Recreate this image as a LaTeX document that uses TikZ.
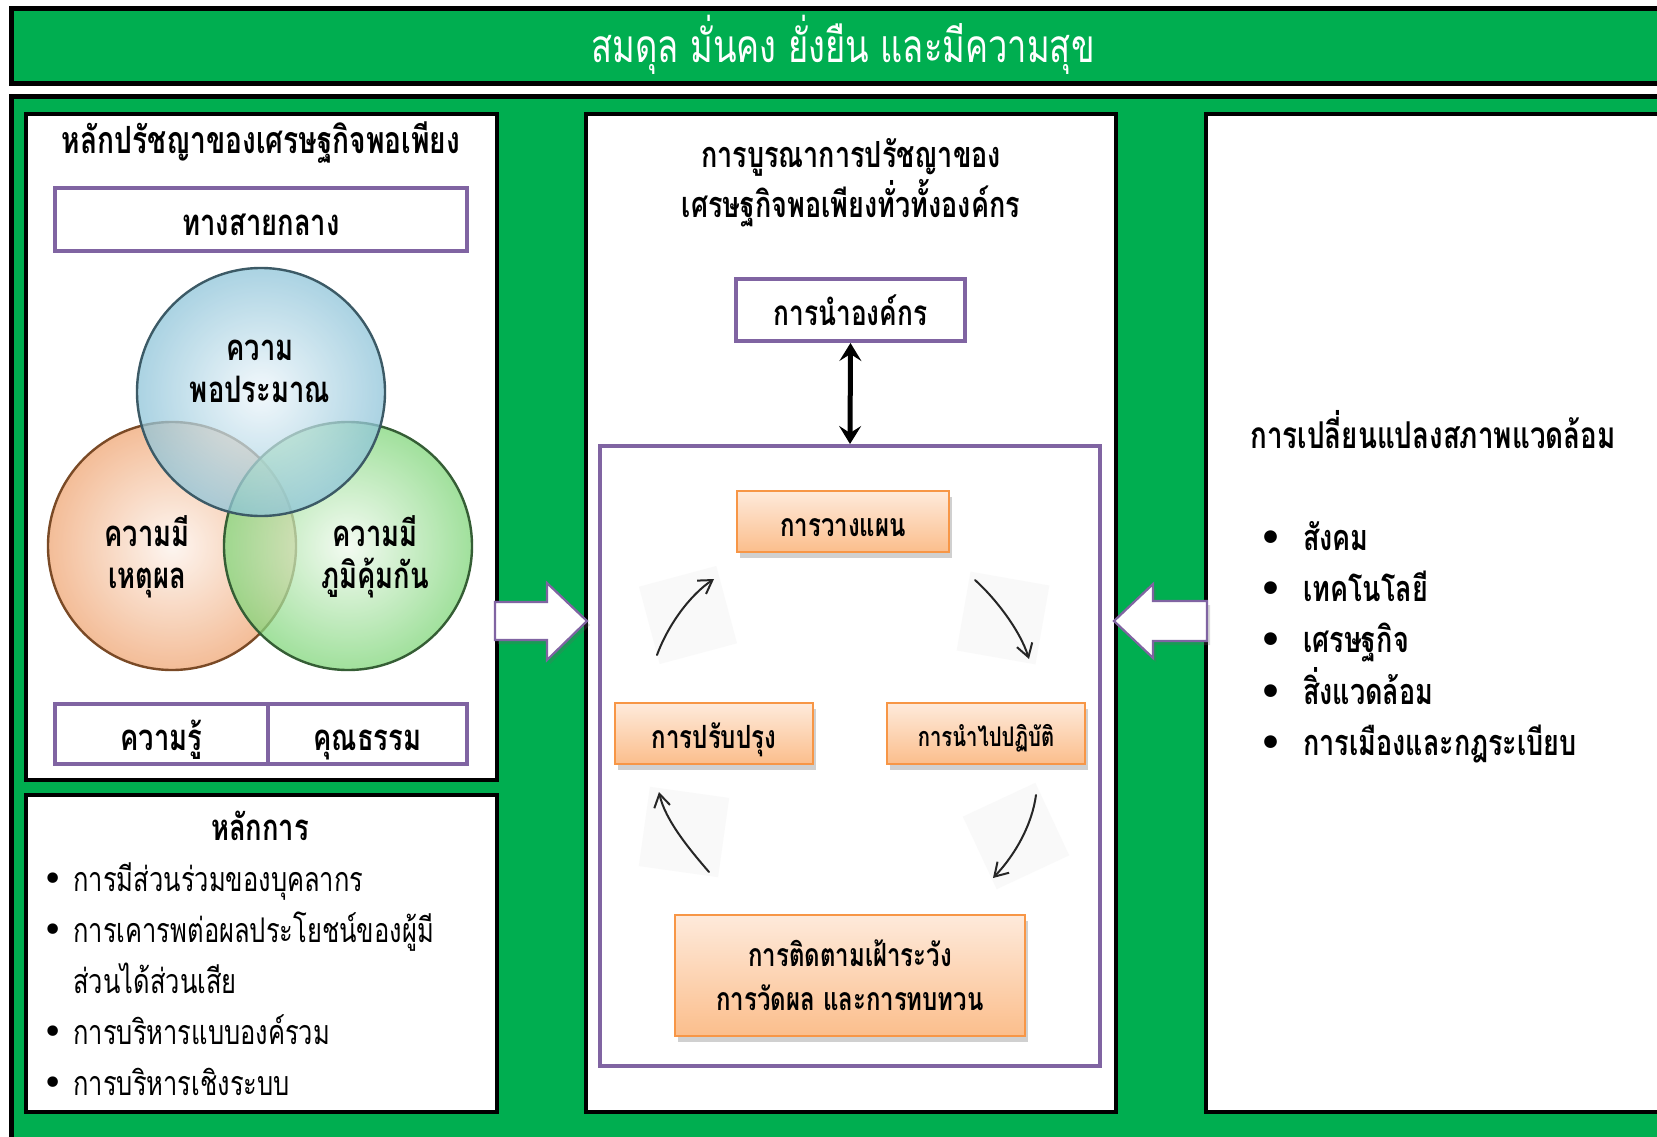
\documentclass[tikz,border=0pt]{standalone}
\usepackage{fontspec}
\setmainfont[Script=Thai,FakeStretch=0.75]{Loma}
\newfontfamily\dvfont{DejaVu Sans}
\usetikzlibrary{arrows.meta,shadows}
\definecolor{grn}{HTML}{00AE50}
\definecolor{pur}{HTML}{8064A2}
\definecolor{orbd}{HTML}{F79646}
\definecolor{ortop}{HTML}{FEEADB}
\definecolor{orbot}{HTML}{FBBE8C}
\definecolor{bluin}{HTML}{EEF6FB}
\definecolor{bluout}{HTML}{8EC4D9}
\definecolor{blubd}{HTML}{3C5A66}
\definecolor{orin}{HTML}{FDF3EC}
\definecolor{orout}{HTML}{F0A674}
\definecolor{orcbd}{HTML}{7A4A26}
\definecolor{gnin}{HTML}{F0FAEE}
\definecolor{gnout}{HTML}{80D67A}
\definecolor{gnbd}{HTML}{355E35}
\newcommand\fsz[2]{\fontsize{#1}{#2}\selectfont}
\newcommand\bul{{\dvfont\fontsize{36}{51}\selectfont •}}
\begin{document}
\begin{tikzpicture}[x=1pt,y=-1pt,
  blk/.style={draw=black,line width=4.5pt,fill=white,inner sep=0pt},
  pbox/.style={draw=pur,line width=4pt,fill=white,inner sep=0pt,text height=32pt,text depth=0pt},
  obox/.style={draw=orbd,line width=1.6pt,top color=ortop,bottom color=orbot,inner sep=0pt,
     drop shadow={shadow xshift=3pt,shadow yshift=-6pt,opacity=0.3,fill=black!60}},
  hb/.style={font=\fsz{36.5}{42}\bfseries,align=center,inner sep=0pt},
  ob/.style={font=\fsz{32}{44}\bfseries,align=center},
  one/.style={text height=29pt,text depth=0pt},
  vc/.style={circle,minimum size=248pt,line width=2.4pt,fill opacity=0.74,inner sep=0pt},
  sk/.style={line width=2pt,black!85,line cap=round,-{Straight Barb[length=13pt,width=16pt,line width=2pt]}},
  sq/.style={fill=black!2.5,minimum size=80pt,inner sep=0pt},
  barrow/.style={draw=pur,line width=2.2pt,fill=white,line join=miter,
     drop shadow={shadow xshift=3pt,shadow yshift=-4pt,opacity=0.25,fill=black!60}},
  dbl/.style={line width=5pt,{Stealth[length=18pt,width=22pt,inset=7pt]}-{Stealth[length=18pt,width=22pt,inset=7pt]}}
]
\clip (0,0) rectangle (1657,1137);
\fill[white] (0,0) rectangle (1657,1137);
% title bar
\node[draw=black,line width=5pt,fill=grn,minimum width=1670pt,minimum height=75pt,inner sep=0pt] (tbar) at (846,46.5) {};
\node[text=white,font=\fsz{46}{50}] (ttl) at (843,45) {สมดุล มั่นคง ยั่งยืน และมีความสุข};
% main panel
\node[draw=black,line width=5pt,fill=grn,minimum width=1670pt,minimum height=1063pt,inner sep=0pt] (panel) at (846,628.5) {};
% left top box
\node[blk,minimum width=471pt,minimum height=666pt] (lbox) at (261.5,447) {};
\node[hb,font=\fsz{37.5}{42}\bfseries] (ltitle) at (261,143) {หลักปรัชญาของเศรษฐกิจพอเพียง};
\node[pbox,hb,minimum width=412pt,minimum height=63pt] (middle) at (261,219.5) {ทางสายกลาง};
\node[vc,inner color=orin,outer color=orout,draw=orcbd] (cor) at (172,546) {};
\node[vc,inner color=gnin,outer color=gnout,draw=gnbd] (cgn) at (348,546) {};
\node[vc,inner color=bluin,outer color=bluout,draw=blubd] (cbl) at (261,392) {};
\node[hb] (tbl) at (260,371.5) {ความ\\พอประมาณ};
\node[hb] (tor) at (147,557) {ความมี\\เหตุผล};
\node[hb] (tgn) at (375,557) {ความมี\\ภูมิคุ้มกัน};
\node[pbox,hb,minimum width=213pt,minimum height=60pt] (know) at (161.5,734) {ความรู้};
\node[pbox,hb,minimum width=199pt,minimum height=60pt] (moral) at (367.5,734) {คุณธรรม};
% left bottom box
\node[blk,minimum width=471pt,minimum height=317pt] (pbox2) at (261.5,953.5) {};
\node[hb] (princ) at (260,826) {หลักการ};
\node[anchor=base west,inner sep=0pt,font=\fsz{34}{51}] (plist) at (42.5,891) {%
\begin{tabular}[t]{@{}l@{\hspace{9.5pt}}l@{}}
\bul & การมีส่วนร่วมของบุคลากร\\
\bul & การเคารพต่อผลประโยชน์ของผู้มี\\
 & ส่วนได้ส่วนเสีย\\
\bul & การบริหารแบบองค์รวม\\
\bul & การบริหารเชิงระบบ
\end{tabular}};
% center box
\node[blk,minimum width=530pt,minimum height=998pt] (cbox) at (851,613) {};
\node[hb,font=\fsz{36}{50}\bfseries] (ctitle) at (851,182.5) {การบูรณาการปรัชญาของ\\เศรษฐกิจพอเพียงทั่วทั้งองค์กร};
\node[pbox,hb,font=\fsz{35}{42}\bfseries,text height=31pt,minimum width=229pt,minimum height=62pt] (lead) at (850.5,310) {การนำองค์กร};
\node[pbox,minimum width=500pt,minimum height=620pt] (cyc) at (850,756) {};
\draw[dbl] (lead.south) -- (cyc.north);
% faint squares behind sketch arrows
\node[sq,rotate=15] (sq1) at (688,615) {};
\node[sq,rotate=-10] (sq2) at (1003,618) {};
\node[sq,rotate=25] (sq3) at (1016,836) {};
\node[sq,rotate=-8] (sq4) at (684,832) {};
\node[obox,ob,one,minimum width=212pt,minimum height=61pt] (plan) at (843,521.5) {การวางแผน};
\node[obox,ob,one,minimum width=198pt,minimum height=61pt] (impr) at (714,733.5) {การปรับปรุง};
\node[obox,ob,font=\fsz{27}{40}\bfseries,text height=26pt,text depth=0pt,minimum width=198pt,minimum height=61pt] (impl) at (986,733.5) {การนำไปปฏิบัติ};
\node[obox,ob,minimum width=350pt,minimum height=121pt] (mon) at (850,975.5) {การติดตามเฝ้าระวัง\\การวัดผล และการทบทวน};
\coordinate (a1s) at (657,655); \coordinate (a1e) at (714,579);
\coordinate (a2s) at (975,580); \coordinate (a2e) at (1029,659);
\coordinate (a3s) at (1036,795); \coordinate (a3e) at (993,878);
\coordinate (a4s) at (709,872); \coordinate (a4e) at (659,792);
\draw[sk] (a1s) .. controls (668,625) and (690,595) .. (a1e);
\draw[sk] (a2s) .. controls (995,598) and (1020,630) .. (a2e);
\draw[sk] (a3s) .. controls (1032,825) and (1015,855) .. (a3e);
\draw[sk] (a4s) .. controls (690,850) and (665,820) .. (a4e);
% right box
\node[blk,minimum width=474pt,minimum height=998pt] (rbox) at (1443,613) {};
\node[font=\fsz{37}{40}\bfseries,inner sep=0pt] (rtitle) at (1433,430) {การเปลี่ยนแปลงสภาพแวดล้อม};
\node[anchor=base west,inner sep=0pt,font=\fsz{36}{51}\bfseries] (rlist) at (1259.5,550) {%
\begin{tabular}[t]{@{}l@{\hspace{20.5pt}}l@{}}
\bul & สังคม\\
\bul & เทคโนโลยี\\
\bul & เศรษฐกิจ\\
\bul & สิ่งแวดล้อม\\
\bul & การเมืองและกฎระเบียบ
\end{tabular}};
% block arrows
\draw[barrow] (495,602) -- (547,602) -- (547,583) -- (587,621) -- (547,660) -- (547,640) -- (495,640) -- cycle;
\draw[barrow] (1207,601) -- (1153,601) -- (1153,584) -- (1114,621) -- (1153,658) -- (1153,641) -- (1207,641) -- cycle;
\end{tikzpicture}
\end{document}
